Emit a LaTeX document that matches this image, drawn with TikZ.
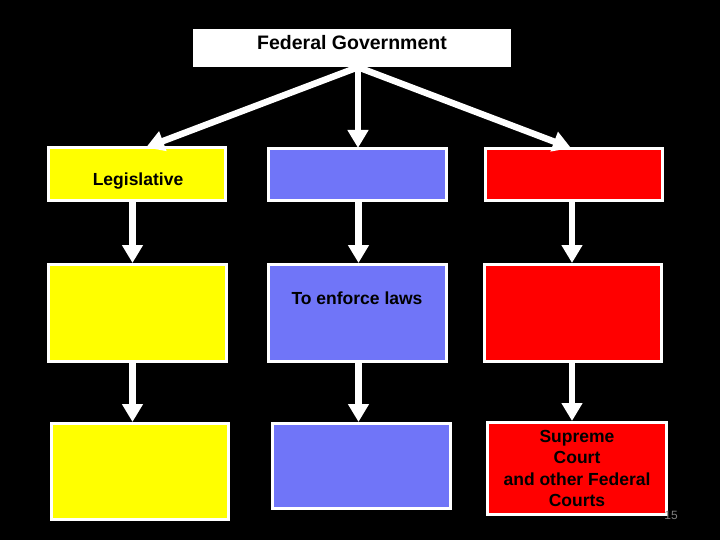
\documentclass[tikz,border=0pt]{standalone}
\usepackage{fontspec}
\setmainfont{Liberation Sans}
\usetikzlibrary{arrows.meta}
\definecolor{myyellow}{RGB}{255,255,0}
\definecolor{myblue}{RGB}{112,117,248}
\definecolor{myred}{RGB}{255,0,0}
\begin{document}
\begin{tikzpicture}[x=1pt,y=-1pt,
  box/.style={draw=white,line width=3pt,inner sep=0pt,anchor=center},
  txt/.style={font=\fontsize{17.5}{21.5}\selectfont\bfseries,text=black,inner sep=0pt},
  arr/.style={draw=white,line width=6.5pt,-{Triangle[width=20pt,length=18pt]}}]
\fill[black] (0,0) rectangle (720,540);
\useasboundingbox (0,0) rectangle (720,540);
% top
\node[fill=white,inner sep=0pt,minimum width=318pt,minimum height=38pt] (fed) at (352,48) {};
\node[inner sep=0pt,font=\fontsize{19.5}{22}\selectfont\bfseries] (fedt) at (352,43) {Federal Government};
% row 1
\node[box,fill=myyellow,minimum width=177pt,minimum height=53pt] (leg1) at (137,174) {};
\node[box,fill=myblue,minimum width=178pt,minimum height=52pt] (exe1) at (357.5,174.5) {};
\node[box,fill=myred,minimum width=177pt,minimum height=52pt] (jud1) at (574,174.5) {};
% row 2
\node[box,fill=myyellow,minimum width=178pt,minimum height=97pt] (leg2) at (137.5,313) {};
\node[box,fill=myblue,minimum width=178pt,minimum height=97pt] (exe2) at (357.5,313) {};
\node[box,fill=myred,minimum width=177pt,minimum height=97pt] (jud2) at (573,313) {};
% row 3
\node[box,fill=myyellow,minimum width=177pt,minimum height=96pt] (leg3) at (140,471.5) {};
\node[box,fill=myblue,minimum width=178pt,minimum height=85pt] (exe3) at (361.5,466) {};
\node[box,fill=myred,minimum width=179pt,minimum height=92pt,txt,align=center] (jud3) at (577,468.5) {Supreme\\Court\\and other Federal\\Courts};
% texts
\node[txt] (legt) at (138,181) {Legislative};
\node[txt] (exet) at (357,298) {To enforce laws};
\node[inner sep=0pt,font=\fontsize{12}{14}\selectfont,text=gray] (pg) at (671,515) {15};
% arrows
\draw[arr] ([xshift=6pt]fed.south) -- ([xshift=9pt,yshift=-1.5pt]leg1.north);
\draw[arr] ([xshift=6pt]fed.south) -- ([xshift=6pt,yshift=-1pt]fed.south |- exe1.north);
\draw[arr] ([xshift=6pt]fed.south) -- ([xshift=-3pt,yshift=-1pt]jud1.north);
\draw[arr] ([xshift=-4.5pt]leg1.south) -- ([xshift=-4.5pt]leg1.south |- leg2.north);
\draw[arr] ([xshift=1pt]exe1.south) -- ([xshift=1pt]exe1.south |- exe2.north);
\draw[arr] ([xshift=-2pt]jud1.south) -- ([xshift=-2pt]jud1.south |- jud2.north);
\draw[arr] ([xshift=-5pt]leg2.south) -- ([xshift=-5pt]leg2.south |- leg3.north);
\draw[arr] ([xshift=1pt]exe2.south) -- ([xshift=1pt]exe2.south |- exe3.north);
\draw[arr] ([xshift=-1pt]jud2.south) -- ([xshift=-1pt]jud2.south |- jud3.north);
\end{tikzpicture}
\end{document}
